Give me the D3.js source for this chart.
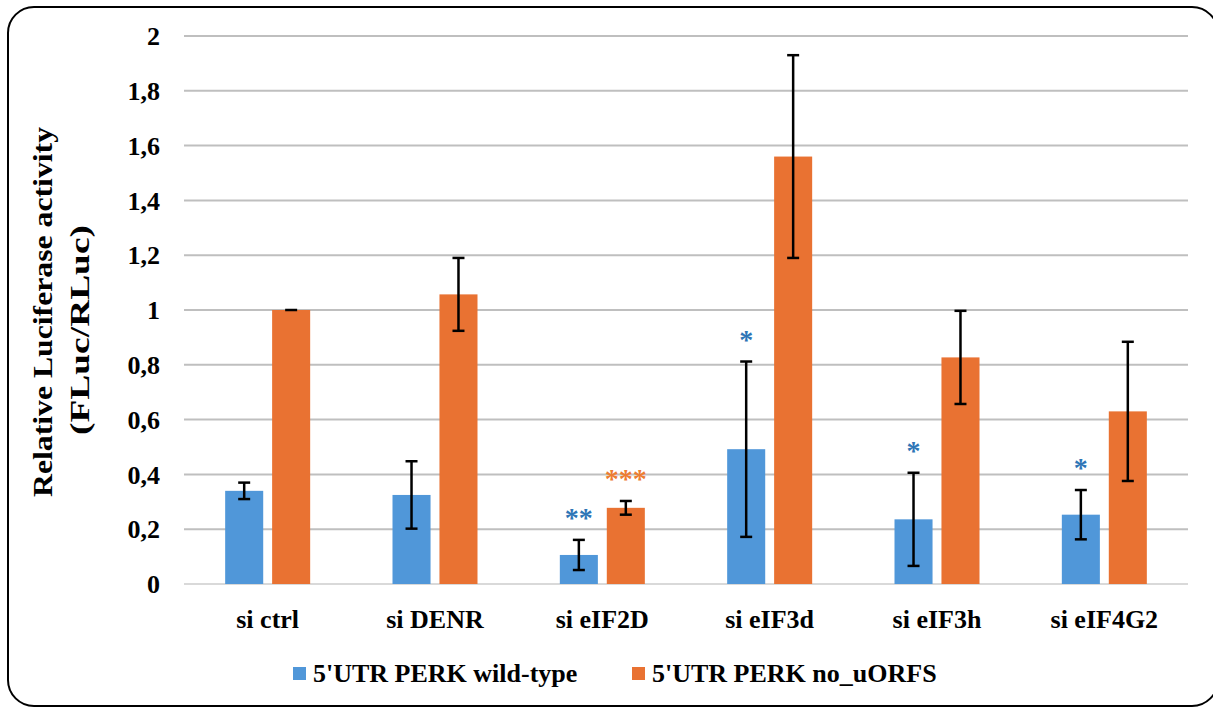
<!DOCTYPE html>
<html>
<head>
<meta charset="utf-8">
<script src="https://cdn.jsdelivr.net/npm/d3@7"></script>
<style>
  body { margin: 0; background: #fff; }
  svg text { font-family: "Liberation Serif", "Times New Roman", serif; font-weight: bold; }
</style>
</head>
<body>
<div id="chart"></div>
<script>
// data
const categories = ["si ctrl", "si DENR", "si eIF2D", "si eIF3d", "si eIF3h", "si eIF4G2"];
const seriesNames = ["5'UTR PERK wild-type", "5'UTR PERK no_uORFS"];
const wildType = [0.34, 0.325, 0.106, 0.492, 0.236, 0.253];
const wildTypeErr = [0.03, 0.123, 0.055, 0.32, 0.17, 0.09];
const noUorfs = [1.0, 1.057, 0.278, 1.56, 0.827, 0.63];
const noUorfsErr = [0, 0.133, 0.025, 0.37, 0.17, 0.254];
const yTicks = [0, 0.2, 0.4, 0.6, 0.8, 1, 1.2, 1.4, 1.6, 1.8, 2];
// significance marks: [category index, series index, text]
const stars = [[2, 0, "**"], [2, 1, "***"], [3, 0, "*"], [4, 0, "*"], [5, 0, "*"]];

const colors = ["#5097d9", "#e97232"];
const starColors = ["#2e75b6", "#ed7d31"];

const width = 1213, height = 708;
const svg = d3.select("#chart").append("svg")
  .attr("width", width)
  .attr("height", height);

// rounded outer frame
svg.append("rect")
  .attr("x", 8).attr("y", 7)
  .attr("width", 1210).attr("height", 699)
  .attr("rx", 26)
  .attr("fill", "none")
  .attr("stroke", "#000")
  .attr("stroke-width", 2);

const plotL = 184, plotR = 1188, plotT = 36, plotB = 584;

const y = d3.scaleLinear().domain([0, 2]).range([plotB, plotT]);
const x0 = d3.scaleBand().domain(categories).range([plotL, plotR]).padding(0);
const groupW = 85;
const x1 = d3.scaleBand().domain([0, 1])
  .range([(x0.bandwidth() - groupW) / 2, (x0.bandwidth() + groupW) / 2])
  .paddingInner(0.19);

// gridlines
svg.append("g").selectAll("line")
  .data(yTicks)
  .join("line")
  .attr("x1", plotL).attr("x2", plotR)
  .attr("y1", d => y(d)).attr("y2", d => y(d))
  .attr("stroke", d => d === 0 ? "#d9d9d9" : "#bfbfbf")
  .attr("stroke-width", 2);

// y tick labels
const fmt = d => String(d).replace(".", ",");
svg.append("g").selectAll("text")
  .data(yTicks)
  .join("text")
  .attr("x", 160)
  .attr("y", d => y(d))
  .attr("dy", "0.35em")
  .attr("text-anchor", "end")
  .attr("font-size", 26)
  .text(fmt);

// y axis title
const yTitle = svg.append("g");
yTitle.append("text")
  .attr("transform", "translate(43,312) rotate(-90)")
  .attr("text-anchor", "middle")
  .attr("dominant-baseline", "central")
  .attr("font-size", 27)
  .attr("textLength", 370)
  .attr("lengthAdjust", "spacingAndGlyphs")
  .text("Relative Luciferase  activity");
yTitle.append("text")
  .attr("transform", "translate(80,330) rotate(-90)")
  .attr("text-anchor", "middle")
  .attr("dominant-baseline", "central")
  .attr("font-size", 27)
  .attr("textLength", 210)
  .attr("lengthAdjust", "spacingAndGlyphs")
  .text("(FLuc/RLuc)");

// rows: one per bar
const rows = [];
categories.forEach((c, i) => {
  rows.push({ cat: c, s: 0, v: wildType[i], e: wildTypeErr[i] });
  rows.push({ cat: c, s: 1, v: noUorfs[i], e: noUorfsErr[i] });
});
const bx = d => x0(d.cat) + x1(d.s);
const cx = d => bx(d) + x1.bandwidth() / 2;

svg.append("g").selectAll("rect")
  .data(rows)
  .join("rect")
  .attr("x", bx)
  .attr("y", d => y(d.v))
  .attr("width", x1.bandwidth())
  .attr("height", d => y(0) - y(d.v))
  .attr("fill", d => colors[d.s]);

// error bars
const eb = svg.append("g").attr("stroke", "#000").attr("stroke-width", 2.5);
const capW = 12;
eb.selectAll(".stem")
  .data(rows.filter(d => d.e > 0))
  .join("line")
  .attr("class", "stem")
  .attr("x1", cx).attr("x2", cx)
  .attr("y1", d => y(d.v + d.e)).attr("y2", d => y(d.v - d.e));
eb.selectAll(".capTop")
  .data(rows)
  .join("line")
  .attr("class", "capTop")
  .attr("x1", d => cx(d) - capW / 2).attr("x2", d => cx(d) + capW / 2)
  .attr("y1", d => y(d.v + d.e)).attr("y2", d => y(d.v + d.e));
eb.selectAll(".capBot")
  .data(rows.filter(d => d.e > 0))
  .join("line")
  .attr("class", "capBot")
  .attr("x1", d => cx(d) - capW / 2).attr("x2", d => cx(d) + capW / 2)
  .attr("y1", d => y(d.v - d.e)).attr("y2", d => y(d.v - d.e));

// significance stars
svg.append("g").selectAll("text")
  .data(stars)
  .join("text")
  .attr("x", d => cx({ cat: categories[d[0]], s: d[1] }))
  .attr("y", d => {
    const r = rows[d[0] * 2 + d[1]];
    return y(r.v + r.e) - 26 + 13;
  })
  .attr("text-anchor", "middle")
  .attr("font-size", 28)
  .attr("fill", d => starColors[d[1]])
  .text(d => d[2]);

// x labels
svg.append("g").selectAll("text")
  .data(categories)
  .join("text")
  .attr("x", d => x0(d) + x0.bandwidth() / 2)
  .attr("y", 628)
  .attr("text-anchor", "middle")
  .attr("font-size", 26)
  .text(d => d);

// legend
const legX = [293, 632];
const leg = svg.append("g").selectAll("g")
  .data(seriesNames)
  .join("g")
  .attr("transform", (d, i) => `translate(${legX[i]},667)`);
leg.append("rect")
  .attr("width", 13).attr("height", 13)
  .attr("fill", (d, i) => colors[i]);
leg.append("text")
  .attr("x", 20).attr("y", 15)
  .attr("font-size", 26)
  .text(d => d);
</script>
</body>
</html>
